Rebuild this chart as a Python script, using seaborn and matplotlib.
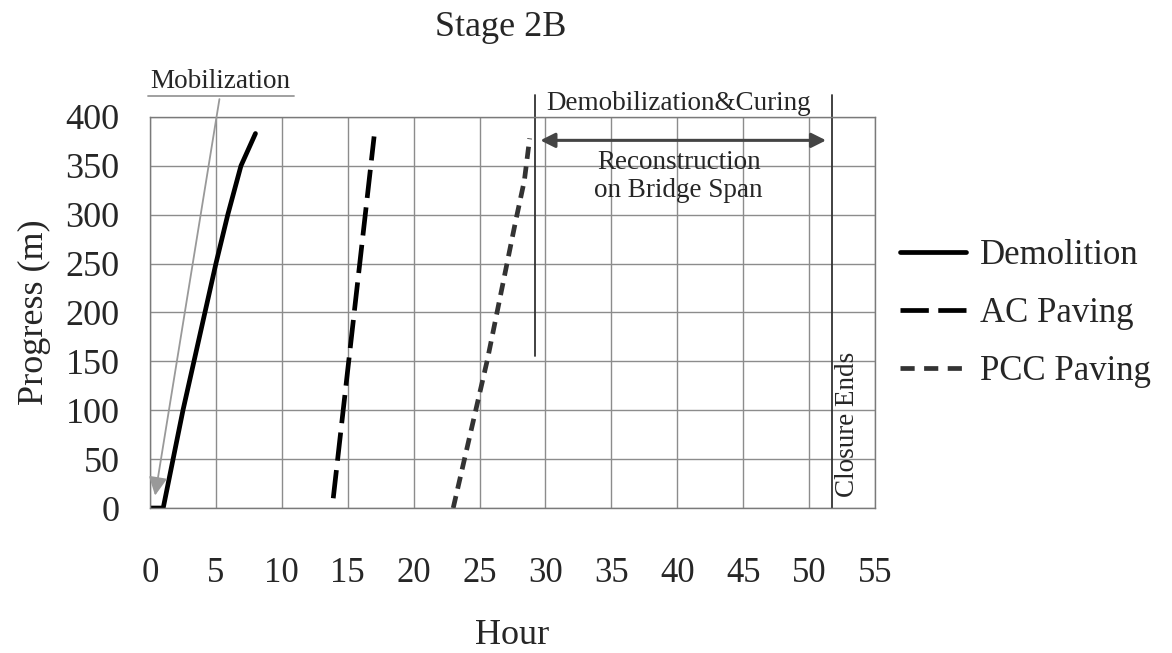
import numpy as np
import pandas as pd
import seaborn as sns
import matplotlib.pyplot as plt

# progress data
demo_hour = [0, 1.0, 2.5, 5.0, 5.9, 6.9, 8.0]
demo_prog = [0, 0, 100, 250, 300, 350, 383]
ac_hour = [13.9, 17.0]
ac_prog = [10, 380]
pcc_hour = [23.0, 25.6, 27.7, 28.4, 28.8]
pcc_prog = [0, 152, 291, 335, 378]

x_ticks = list(range(0, 60, 5))
y_ticks = list(range(0, 450, 50))

recon_start = 29.2
closure_end = 51.7

sns.set_theme(style='white')
plt.rcParams['font.family'] = ['Liberation Serif', 'DejaVu Serif']

df = pd.concat([
    pd.DataFrame({'Hour': demo_hour, 'Progress': demo_prog, 'Task': 'Demolition'}),
    pd.DataFrame({'Hour': ac_hour, 'Progress': ac_prog, 'Task': 'AC Paving'}),
    pd.DataFrame({'Hour': pcc_hour, 'Progress': pcc_prog, 'Task': 'PCC Paving'}),
])

fig = plt.figure(figsize=(11.72, 6.53), dpi=100)
ax = fig.add_axes([0.128, 0.222, 0.6186, 0.599])

palette = {'Demolition': 'black', 'AC Paving': 'black', 'PCC Paving': '#333333'}
dashes = {'Demolition': '', 'AC Paving': (6, 2), 'PCC Paving': (2.6, 1.6)}
sns.lineplot(data=df, x='Hour', y='Progress', hue='Task', style='Task',
             palette=palette, dashes=dashes, linewidth=3.4, sort=False,
             estimator=None, ax=ax, legend=False)

ax.set_xlim(0, 55)
ax.set_ylim(0, 400)
ax.set_xticks(x_ticks)
ax.set_yticks(y_ticks)
ax.grid(True, color='#8c8c8c', linewidth=1.0)
for s in ax.spines.values():
    s.set_color('#7a7a7a')
    s.set_linewidth(1.0)
ax.tick_params(axis='x', labelsize=25, pad=35, length=0)
ax.tick_params(axis='y', labelsize=26, pad=22, length=0)
ax.set_xlabel('Hour', fontsize=26, labelpad=21)
ax.set_ylabel('Progress (m)', fontsize=26, labelpad=10)
ax.set_title('Stage 2B', fontsize=26, pad=58, x=0.484)

# reconstruction window markers
ax.plot([recon_start, recon_start], [155, 422], color='#333333', lw=1.3, clip_on=False)
ax.plot([closure_end, closure_end], [0, 422], color='#333333', lw=1.3, clip_on=False)
ax.annotate('', xy=(29.4, 376), xytext=(51.5, 376),
            arrowprops=dict(arrowstyle='<|-|>', color='#444444', lw=2.2,
                            mutation_scale=22))
ax.text(40.1, 414, 'Demobilization&Curing', ha='center', va='center', fontsize=19.5)
ax.text(40.1, 339, 'Reconstruction\non Bridge Span', ha='center', va='center',
        fontsize=19.5, linespacing=1.15)
ax.text(52.9, 11, 'Closure Ends', rotation=90, ha='center', va='bottom', fontsize=19.5)

# mobilization callout
ax.text(0.0, 436, 'Mobilization', ha='left', va='center', fontsize=19.5)
ax.plot([-0.15, 10.9], [421, 421], color='#999999', lw=1.3, clip_on=False)
ax.annotate('', xy=(0.35, 10), xytext=(5.3, 421),
            arrowprops=dict(arrowstyle='-|>', color='#999999', lw=1.3,
                            mutation_scale=28), annotation_clip=False)

handles = [
    plt.Line2D([], [], color='black', lw=3.4),
    plt.Line2D([], [], color='black', lw=3.4, dashes=(6, 2)),
    plt.Line2D([], [], color='#333333', lw=3.4, dashes=(3, 2)),
]
ax.legend(handles, ['Demolition', 'AC Paving', 'PCC Paving'], loc='center left',
          bbox_to_anchor=(0.992, 0.498), frameon=False, fontsize=25,
          handlelength=1.9, labelspacing=0.72, handletextpad=0.4)

fig.savefig('out.png', dpi=100)
